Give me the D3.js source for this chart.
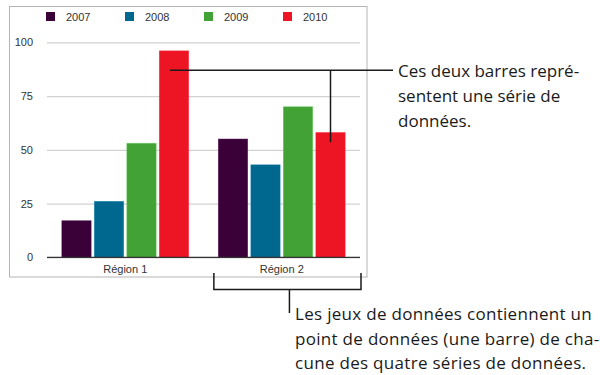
<!DOCTYPE html>
<html>
<head>
<meta charset="utf-8">
<script src="https://cdn.jsdelivr.net/npm/d3@7/dist/d3.min.js"></script>
<style>
  html, body { margin: 0; padding: 0; background: #fff; }
  svg { display: block; }
</style>
</head>
<body>
<svg id="chart" width="600" height="375"></svg>
<script>
// Data: two regions, four yearly series
const regions = ["Région 1", "Région 2"];
const years = ["2007", "2008", "2009", "2010"];
const values2007 = [17, 55];
const values2008 = [26, 43];
const values2009 = [53, 70];
const values2010 = [96, 58];
const yTicks = [0, 25, 50, 75, 100];
const colors = ["#3a0038", "#00688e", "#42a235", "#ed1424"];

const seriesValues = [values2007, values2008, values2009, values2010];
const rows = regions.map((r, i) => ({
  region: r,
  bars: years.map((yr, j) => ({ year: yr, value: seriesValues[j][i] }))
}));

const svg = d3.select("#chart");
const axisFont = "'Liberation Sans', Arial, Helvetica, sans-serif";
const noteFont = "'Open Sans', 'Noto Sans', sans-serif";

const plot = { left: 47, right: 360, top: 42.3, bottom: 257.3 };

const x0 = d3.scaleBand().domain(regions)
  .range([plot.left, plot.right]).paddingInner(0.19).paddingOuter(0.095);
const x1 = d3.scaleBand().domain(years)
  .range([0, x0.bandwidth()]).paddingInner(0.1);
const y = d3.scaleLinear().domain([0, 100]).range([plot.bottom, plot.top]);
const color = d3.scaleOrdinal().domain(years).range(colors);

// Chart frame
svg.append("rect")
  .attr("x", 9.5).attr("y", 6.5).attr("width", 357.5).attr("height", 270.5)
  .attr("fill", "none").attr("stroke", "#b4b4b4").attr("stroke-width", 1);

// Gridlines and tick labels
const yAxis = d3.axisLeft(y).tickValues(yTicks)
  .tickSize(-(plot.right - plot.left)).tickPadding(14);
const gy = svg.append("g").attr("transform", `translate(${plot.left},0)`).call(yAxis);
gy.select(".domain").remove();
gy.selectAll(".tick line").attr("stroke", "#d2d2d2").attr("stroke-width", 1.2);
gy.selectAll(".tick text")
  .attr("font-family", axisFont).attr("font-size", 11).attr("fill", "#333");

// Bars
const groups = svg.append("g").selectAll("g").data(rows).join("g")
  .attr("transform", d => `translate(${x0(d.region)},0)`);
groups.selectAll("rect").data(d => d.bars).join("rect")
  .attr("x", d => x1(d.year))
  .attr("y", d => y(d.value))
  .attr("width", x1.bandwidth())
  .attr("height", d => y(0) - y(d.value))
  .attr("fill", d => color(d.year))
  .attr("stroke", d => d3.color(color(d.year)).brighter(0.5))
  .attr("stroke-opacity", 0.6)
  .attr("stroke-width", 0.8);

// Baseline and category labels
const xAxis = d3.axisBottom(x0).tickSize(0).tickPadding(8);
const gx = svg.append("g").attr("transform", `translate(0,${plot.bottom})`).call(xAxis);
gx.select(".domain").attr("stroke", "#333").attr("stroke-width", 1.2)
  .attr("d", `M${plot.left},0H${plot.right}`);
gx.selectAll(".tick text")
  .attr("font-family", axisFont).attr("font-size", 11).attr("fill", "#333");

// Legend
const legend = svg.append("g").selectAll("g").data(years).join("g")
  .attr("transform", (d, i) => `translate(${46 + i * 79},12)`);
legend.append("rect").attr("width", 9).attr("height", 9).attr("fill", d => color(d));
legend.append("text").attr("x", 20).attr("y", 8.5)
  .attr("font-family", axisFont).attr("font-size", 11).attr("fill", "#333")
  .text(d => d);

// Annotation: series callout
const ink = "#1a1a1a";
const barX = (region, year) => x0(region) + x1(year) + x1.bandwidth() / 2;
const leadY = y(87);
const stemX = barX("Région 2", "2010");
svg.append("path")
  .attr("d", `M${barX("Région 1", "2010") - 4},${leadY}H${393}` +
             `M${stemX},${leadY}V${y(53.5)}`)
  .attr("fill", "none").attr("stroke", ink).attr("stroke-width", 1.5);

const note1 = ["Ces deux barres repré-", "sentent une série de", "données."];
svg.append("text").attr("font-family", noteFont).attr("font-size", 17).attr("fill", ink)
  .selectAll("tspan").data(note1).join("tspan")
  .attr("x", 398).attr("y", (d, i) => 77 + i * 25)
  .text(d => d);

// Annotation: data-set bracket under Région 2
const bL = x0("Région 2") - 4.5;
const bR = plot.right + 1;
const bY = 289.5;
const bMid = (bL + bR) / 2 + 2;
svg.append("path")
  .attr("d", `M${bL},273V${bY}H${bR}V273M${bMid},${bY}V313`)
  .attr("fill", "none").attr("stroke", ink).attr("stroke-width", 1.5);

const note2 = ["Les jeux de données contiennent un",
               "point de données (une barre) de cha-",
               "cune des quatre séries de données."];
svg.append("text").attr("font-family", noteFont).attr("font-size", 17).attr("fill", ink)
  .attr("letter-spacing", 0.3)
  .selectAll("tspan").data(note2).join("tspan")
  .attr("x", 295).attr("y", (d, i) => 320 + i * 24.5)
  .text(d => d);
</script>
</body>
</html>
